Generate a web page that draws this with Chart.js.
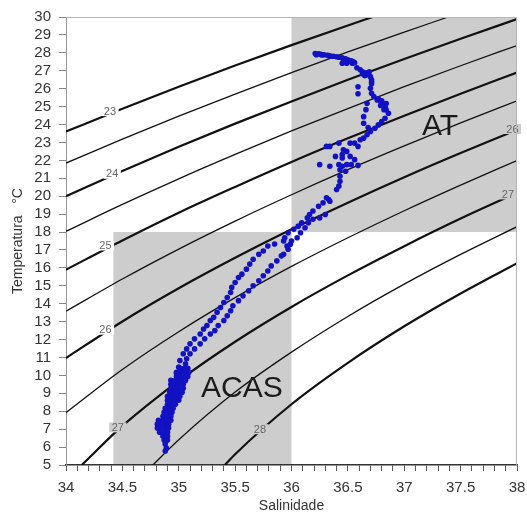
<!DOCTYPE html>
<html>
<head>
<meta charset="utf-8">
<script src="https://cdn.jsdelivr.net/npm/chart.js@4.4.0/dist/chart.umd.min.js"></script>
<style>
  body { margin: 0; background: #fff; }
  canvas { display: block; }
</style>
</head>
<body>
<canvas id="tsChart" width="527" height="518"></canvas>
<script>
// isopycnals (sigma-t), [salinity, temperature]
const iso23 = [[34, 23.61], [34.5, 24.88], [35, 26.11], [35.5, 27.29], [36, 28.43], [36.5, 29.53], [36.72, 30]];
const iso23_5 = [[34, 21.85], [34.5, 23.18], [35, 24.47], [35.5, 25.70], [36, 26.89], [36.5, 28.05], [37, 29.16], [37.39, 30]];
const iso24 = [[34, 20.0], [34.5, 21.41], [35, 22.76], [35.5, 24.05], [36, 25.29], [36.5, 26.50], [37, 27.66], [37.5, 28.79], [38, 29.88]];
const iso24_5 = [[34, 18.04], [34.5, 19.54], [35, 20.97], [35.5, 22.33], [36, 23.64], [36.5, 24.89], [37, 26.11], [37.5, 27.28], [38, 28.41]];
const iso25 = [[34, 15.90], [34.5, 17.53], [35, 19.08], [35.5, 20.52], [36, 21.91], [36.5, 23.23], [37, 24.49], [37.5, 25.72], [38, 26.90]];
const iso25_5 = [[34, 13.58], [34.5, 15.38], [35, 17.05], [35.5, 18.61], [36, 20.08], [36.5, 21.48], [37, 22.81], [37.5, 24.09], [38, 25.32]];
const iso26 = [[34, 10.97], [34.5, 13.01], [35, 14.86], [35.5, 16.56], [36, 18.15], [36.5, 19.64], [37, 21.06], [37.5, 22.41], [38, 23.70]];
const iso26_5 = [[34, 7.92], [34.5, 10.33], [35, 12.44], [35.5, 14.34], [36, 16.08], [36.5, 17.68], [37, 19.19], [37.5, 20.62], [38, 21.99]];
const iso27 = [[34.14, 5], [34.5, 7.18], [35, 9.70], [35.5, 11.88], [36, 13.82], [36.5, 15.58], [37, 17.21], [37.5, 18.75], [38, 20.19]];
const iso27_5 = [[34.77, 5], [35, 6.41], [35.5, 9.07], [36, 11.30], [36.5, 13.29], [37, 15.09], [37.5, 16.75], [38, 18.30]];
const iso28 = [[35.41, 5], [35.5, 5.60], [36, 8.39], [36.5, 10.70], [37, 12.74], [37.5, 14.57], [38, 16.26]];

const isopycnals = [
  [23, iso23], [23.5, iso23_5], [24, iso24], [24.5, iso24_5], [25, iso25], [25.5, iso25_5],
  [26, iso26], [26.5, iso26_5], [27, iso27], [27.5, iso27_5], [28, iso28]
];

// contour labels: text, salinity, temperature
const contourLabels = [
  ['23', 34.39, 24.75], ['24', 34.41, 21.25], ['25', 34.35, 17.25], ['26', 34.35, 12.55],
  ['27', 34.46, 7.1], ['28', 35.72, 7.0], ['26', 37.96, 23.75], ['27', 37.92, 20.1]
];

// water masses: name, S min, S max, T min, T max
const waterMasses = [
  ['AT', 36, 38, 18, 30],
  ['ACAS', 34.42, 36, 5, 18]
];

// CTD profile, [salinity, temperature]
const ctdProfile = [
  // surface layer
  [36.21, 27.96], [36.24, 27.94], [36.26, 27.92], [36.29, 27.89], [36.32, 27.86], [36.34, 27.83],
  [36.37, 27.81], [36.40, 27.78], [36.42, 27.75], [36.45, 27.72], [36.48, 27.67], [36.50, 27.61],
  [36.53, 27.56], [36.55, 27.50], [36.54, 27.42], [36.49, 27.42], [36.45, 27.42],
  [36.22, 27.90], [36.27, 27.88], [36.46, 27.66], [36.52, 27.52], [36.56, 27.45],
  [36.58, 27.17], [36.61, 27.06], [36.63, 26.94], [36.66, 26.89], [36.68, 26.78], [36.70, 26.67],
  [36.71, 26.50], [36.65, 26.72], [36.63, 26.83], [36.69, 26.94], [36.71, 26.39], [36.71, 26.28],
  // salinity maximum
  [36.59, 26.11], [36.59, 25.72], [36.67, 25.18], [36.66, 24.83], [36.64, 24.44], [36.64, 24.07], [36.68, 23.83],
  [36.70, 26.02], [36.71, 25.74], [36.73, 25.56], [36.76, 25.37], [36.79, 25.28], [36.81, 25.18],
  [36.83, 25.00], [36.84, 24.82], [36.86, 24.63], [36.83, 24.35], [36.80, 24.17], [36.77, 23.98],
  [36.74, 23.79], [36.70, 23.61], [36.67, 23.43], [36.64, 23.24],
  [36.77, 25.44], [36.80, 25.33], [36.84, 25.17], [36.82, 24.83], [36.79, 25.06],
  [36.61, 23.15], [36.56, 22.96], [36.52, 22.96], [36.59, 22.78], [36.49, 22.50], [36.46, 22.59],
  [36.45, 22.32], [36.42, 22.96], [36.34, 22.78], [36.31, 22.78], [36.39, 22.22], [36.45, 22.13],
  [36.52, 22.22], [36.56, 22.04], [36.25, 21.76], [36.34, 21.67], [36.42, 21.76], [36.45, 21.67],
  [36.49, 21.76], [36.53, 21.76], [36.59, 21.72], [36.43, 21.48], [36.48, 21.39], [36.43, 21.11],
  [36.43, 20.83], [36.42, 20.56], [36.40, 20.37],
  // thermocline
  [36.33, 19.82], [36.28, 19.63], [36.24, 19.44], [36.19, 19.17], [36.16, 18.98], [36.14, 18.79],
  [36.09, 18.52], [36.06, 18.33], [36.02, 18.15], [35.97, 17.96], [35.94, 17.68], [35.93, 17.50],
  [36.30, 18.98], [36.25, 18.79], [36.19, 18.71], [36.15, 18.52], [36.12, 18.24], [36.08, 17.96],
  [36.05, 17.68], [36.00, 17.50], [35.96, 17.22],
  [36.34, 19.72], [36.31, 19.91], [35.99, 17.32], [35.97, 17.04], [35.93, 16.76],
  [35.85, 17.33], [35.79, 17.22], [35.75, 16.94], [35.71, 16.76], [35.66, 16.48], [35.63, 16.21],
  [35.60, 15.93], [35.56, 15.65], [35.53, 15.46], [35.50, 15.18], [35.47, 14.91], [35.46, 14.63],
  [35.43, 14.35], [35.40, 14.07], [35.37, 13.79], [35.34, 13.52], [35.31, 13.24], [35.28, 13.06],
  [35.25, 12.78], [35.22, 12.59], [35.19, 12.31], [35.14, 12.04], [35.10, 11.76], [35.07, 11.48],
  [35.04, 11.21], [35.01, 10.83], [35.00, 10.46], [34.98, 10.09],
  [35.91, 16.67], [35.87, 16.39], [35.82, 16.11], [35.79, 15.83], [35.75, 15.56], [35.71, 15.28],
  [35.66, 15.00], [35.62, 14.72], [35.57, 14.44], [35.53, 14.17], [35.48, 13.89], [35.46, 13.61],
  [35.43, 13.33], [35.40, 13.06], [35.35, 12.78], [35.32, 12.50], [35.28, 12.31], [35.23, 12.04],
  [35.19, 11.76], [35.14, 11.48], [35.10, 11.21], [35.07, 10.93], [35.06, 10.65], [35.04, 10.37],
  // deep part
  [35.01, 10.39], [35.05, 10.39], [35.08, 10.39],
  [34.98, 10.17], [35.02, 10.17], [35.06, 10.17], [35.09, 10.17],
  [34.98, 9.94], [35.01, 9.94], [35.05, 9.94], [35.08, 9.94],
  [34.93, 9.72], [34.97, 9.72], [35.00, 9.72], [35.04, 9.72], [35.06, 9.72],
  [34.93, 9.50], [34.97, 9.50], [35.00, 9.50], [35.04, 9.50],
  [34.93, 9.28], [34.97, 9.28], [35.00, 9.28], [35.04, 9.28],
  [34.92, 9.06], [34.96, 9.06], [34.99, 9.06], [35.03, 9.06],
  [34.90, 8.83], [34.94, 8.83], [34.98, 8.83], [35.01, 8.83],
  [34.90, 8.61], [34.93, 8.61], [34.97, 8.61], [35.00, 8.61],
  [34.90, 8.39], [34.93, 8.39], [34.97, 8.39],
  [34.88, 8.17], [34.91, 8.17], [34.95, 8.17],
  [34.87, 7.94], [34.90, 7.94], [34.94, 7.94],
  [34.86, 7.72], [34.90, 7.72], [34.93, 7.72],
  [34.82, 7.50], [34.86, 7.50], [34.90, 7.50], [34.93, 7.50],
  [34.81, 7.28], [34.84, 7.28], [34.88, 7.28], [34.91, 7.28],
  [34.81, 7.06], [34.84, 7.06], [34.88, 7.06], [34.91, 7.06],
  [34.83, 6.83], [34.87, 6.83], [34.90, 6.83],
  [34.86, 6.61], [34.90, 6.61], [34.87, 6.39], [34.90, 6.39],
  [34.88, 6.17], [34.89, 5.94], [34.88, 5.78]
];

const massGray = '#cdcdcd';
const massNameAt = { AT: [37.157, 23.44], ACAS: [35.197, 8.78] };

function insideMass(s, t) {
  return waterMasses.some(m => s >= m[1] && s <= m[2] && t >= m[3] && t <= m[4]);
}

const tsDecor = {
  id: 'tsDecor',
  beforeDraw(chart) {
    const { ctx, scales: { x, y } } = chart;
    ctx.save();
    ctx.fillStyle = massGray;
    waterMasses.forEach(m => {
      const left = x.getPixelForValue(m[1]);
      const right = x.getPixelForValue(m[2]);
      const top = y.getPixelForValue(m[4]);
      const bottom = y.getPixelForValue(m[3]);
      ctx.fillRect(left, top, right - left, bottom - top);
    });
    ctx.restore();
  },
  afterDatasetsDraw(chart) {
    const { ctx, scales: { x, y } } = chart;
    ctx.save();
    ctx.font = '11px Arial, "Liberation Sans", sans-serif';
    ctx.textAlign = 'center';
    ctx.textBaseline = 'middle';
    contourLabels.forEach(([text, s, t]) => {
      const px = x.getPixelForValue(s);
      const py = y.getPixelForValue(t);
      const w = ctx.measureText(text).width + 5;
      ctx.fillStyle = insideMass(s, t) ? massGray : '#fff';
      ctx.fillRect(px - w / 2, py - 5, w, 10);
      ctx.fillStyle = '#666';
      ctx.fillText(text, px, py + 0.5);
    });

    ctx.font = '30px Arial, "Liberation Sans", sans-serif';
    ctx.textAlign = 'left';
    ctx.textBaseline = 'alphabetic';
    ctx.fillStyle = '#1a1a1a';
    waterMasses.forEach(m => {
      const pos = massNameAt[m[0]];
      ctx.fillText(m[0], x.getPixelForValue(pos[0]), y.getPixelForValue(pos[1]));
    });
    ctx.restore();
  },
  afterDraw(chart) {
    const { ctx, chartArea: a } = chart;
    ctx.save();
    ctx.strokeStyle = '#b5b5b5';
    ctx.lineWidth = 1;
    ctx.beginPath();
    ctx.moveTo(a.left, a.top + 0.5);
    ctx.lineTo(a.right - 0.5, a.top + 0.5);
    ctx.lineTo(a.right - 0.5, a.bottom);
    ctx.stroke();
    ctx.restore();
  }
};

const contourSets = isopycnals.map(([sigma, pts]) => ({
  type: 'line',
  label: 'sigma-t ' + sigma,
  data: pts.map(p => ({ x: p[0], y: p[1] })),
  borderColor: '#111',
  borderWidth: Number.isInteger(sigma) ? 2.2 : 1.3,
  pointRadius: 0,
  fill: false,
  cubicInterpolationMode: 'monotone'
}));

const tickFont = { family: 'Arial, "Liberation Sans", sans-serif', size: 15 };
const titleFont = { family: 'Arial, "Liberation Sans", sans-serif', size: 14 };

const ctx = document.getElementById('tsChart').getContext('2d');
const tsChart = new Chart(ctx, {
  type: 'scatter',
  data: {
    datasets: [
      {
        label: 'CTD',
        data: ctdProfile.map(p => ({ x: p[0], y: p[1] })),
        pointRadius: 2.8,
        pointBorderWidth: 0,
        pointBackgroundColor: '#1212c4',
        showLine: false
      },
      ...contourSets
    ]
  },
  options: {
    responsive: false,
    animation: false,
    layout: { padding: { top: 15, right: 0, left: 0, bottom: 0 } },
    plugins: { legend: { display: false }, tooltip: { enabled: false } },
    scales: {
      x: {
        type: 'linear',
        min: 34,
        max: 38,
        afterFit: s => { s.height = 53; s.paddingLeft = 0; s.paddingRight = 10; },
        border: { color: '#333', width: 1.5 },
        grid: { drawOnChartArea: false, tickLength: 6, tickColor: '#555' },
        ticks: {
          stepSize: 0.1,
          autoSkip: false,
          maxRotation: 0,
          padding: 8,
          color: '#333',
          font: tickFont,
          callback: v => Math.abs(v * 2 - Math.round(v * 2)) < 1e-6 ? String(Number(v.toFixed(1))) : ''
        },
        title: { display: true, text: 'Salinidade', color: '#333', font: titleFont, padding: { top: 0, bottom: 3 } }
      },
      y: {
        type: 'linear',
        min: 5,
        max: 30,
        afterFit: s => { s.width = 66; },
        border: { color: '#999', width: 1 },
        grid: { drawOnChartArea: false, tickLength: 7, tickColor: '#888' },
        ticks: { stepSize: 1, autoSkip: false, padding: 8, color: '#333', font: tickFont },
        title: { display: true, text: 'Temperatura   °C', color: '#333', font: titleFont, padding: { top: 10, bottom: 0 } }
      }
    }
  },
  plugins: [tsDecor]
});
</script>
</body>
</html>
